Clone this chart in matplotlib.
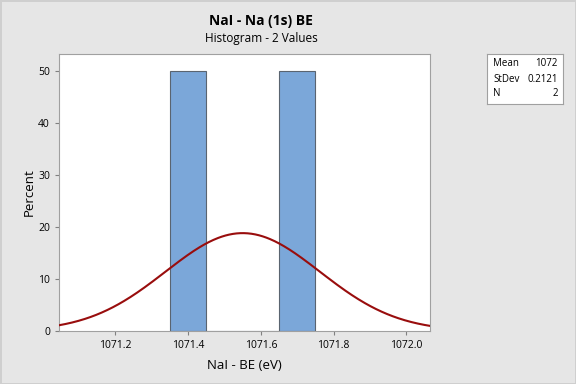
import matplotlib
matplotlib.use("Agg")
import matplotlib.pyplot as plt
import numpy as np

# Data
values = [1071.4, 1071.7]
bin_edges = [1071.35, 1071.45, 1071.55, 1071.65, 1071.75]
percent = [50, 0, 0, 50]
mean = 1071.55
stdev = 0.2121
n = 2
x_ticks = [1071.2, 1071.4, 1071.6, 1071.8, 1072.0]
x_tick_labels = ["1071.2", "1071.4", "1071.6", "1071.8", "1072.0"]
y_ticks = [0, 10, 20, 30, 40, 50]

plt.rcParams['font.family'] = ['Open Sans', 'DejaVu Sans']

fig = plt.figure(figsize=(5.76, 3.84), dpi=100)
fig.patch.set_facecolor("#e6e6e6")
fig.patch.set_edgecolor("#cfcfcf")
fig.patch.set_linewidth(2)
ax = fig.add_axes([0.1024, 0.138, 0.6441, 0.721])

widths = np.diff(bin_edges)
ax.bar(bin_edges[:-1], percent, width=widths, align="edge",
       color="#7ba7d9", edgecolor="#5a6470", linewidth=0.8, zorder=2)

# fitted normal curve scaled to percent with the bin width
bw = widths[0]
xs = np.linspace(1071.045, 1072.065, 400)
pdf = np.exp(-0.5 * ((xs - mean) / stdev) ** 2) / (stdev * np.sqrt(2 * np.pi))
ax.plot(xs, pdf * bw * 100, color="#990d0d", linewidth=1.5, zorder=3)

ax.set_xlim(1071.045, 1072.065)
ax.set_ylim(0, 53.2)
ax.set_xticks(x_ticks)
ax.set_xticklabels(x_tick_labels)
ax.set_yticks(y_ticks)
ax.tick_params(labelsize=7.5, color="#808080", length=3)
for s in ax.spines.values():
    s.set_color("#a0a0a0")

ax.set_xlabel("NaI - BE (eV)", fontsize=9.5, labelpad=6)
ax.set_ylabel("Percent", fontsize=9.5, labelpad=2)

fig.text(0.453, 0.945, "NaI - Na (1s) BE", ha="center", va="center",
         fontsize=10, fontweight="bold")
fig.text(0.453, 0.9, "Histogram - 2 Values", ha="center", va="center",
         fontsize=8.5)

# stats box
box = fig.add_axes([487 / 576, 1 - 104 / 384, 76 / 576, 50 / 384])
box.set_xticks([])
box.set_yticks([])
for s in box.spines.values():
    s.set_color("#a0a0a0")
labels = ["Mean", "StDev", "N"]
vals = ["%d" % round(mean), "%.4f" % stdev, "%d" % n]
for i in range(3):
    y = 0.8 - i * 0.3
    box.text(0.08, y, labels[i], fontsize=7, va="center", transform=box.transAxes)
    box.text(0.93, y, vals[i], fontsize=7, va="center", ha="right", transform=box.transAxes)

fig.savefig("out.png", dpi=100, facecolor=fig.get_facecolor(),
            edgecolor=fig.get_edgecolor())
